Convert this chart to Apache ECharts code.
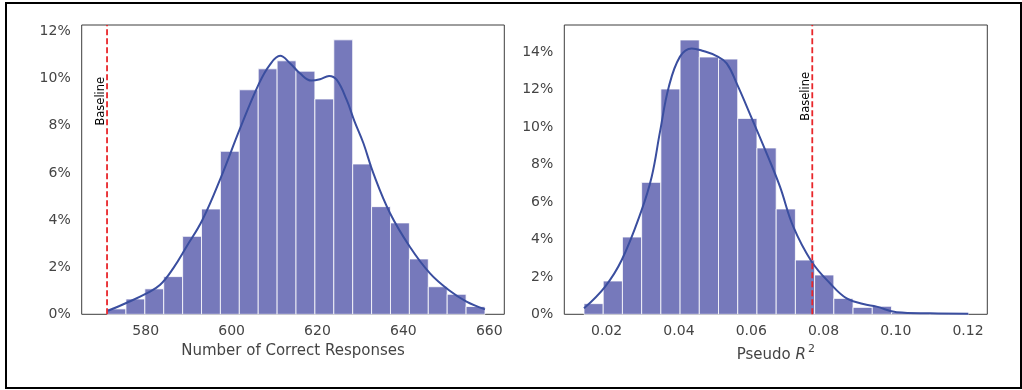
<!DOCTYPE html>
<html>
<head>
<meta charset="utf-8">
<script src="https://cdn.jsdelivr.net/npm/echarts@6/dist/echarts.min.js"></script>
<style>html,body{margin:0;padding:0;background:#fff}#c{width:1022px;height:390px}</style>
</head>
<body>
<div id="c"></div>
<script>
// ---- Left panel: Number of Correct Responses ----
const leftBinStart = 571.0;
const leftBinWidth = 4.4;
const leftPercents = [0.23, 0.65, 1.08, 1.6, 3.31, 4.47, 6.92, 9.53, 10.42, 10.76, 10.32, 9.14, 11.65, 6.38, 4.57, 3.88, 2.35, 1.17, 0.85, 0.33];
const leftKdeX = [571.2, 575.6, 580.2, 583.3, 586.4, 589.5, 593.2, 597.5, 602.0, 606.4, 608.9, 611.3, 613.6, 615.9, 618.6, 620.6, 622.7, 624.5, 626.8, 628.6, 630.7, 633.0, 636.9, 641.5, 646.2, 650.8, 654.7, 659.0];
const leftKdeY = [0.15, 0.49, 0.89, 1.24, 1.95, 2.87, 4.0, 5.8, 7.9, 9.8, 10.59, 10.97, 10.66, 10.23, 9.92, 9.98, 10.12, 9.95, 9.10, 8.2, 7.26, 5.99, 4.29, 2.87, 1.74, 1.0, 0.54, 0.21];
const leftBaseline = 571.0;
const leftXTicks = [580, 600, 620, 640, 660];
const leftYTicks = [0, 2, 4, 6, 8, 10, 12];

// ---- Right panel: Pseudo R^2 ----
const rightBinStart = 0.01372;
const rightBinWidth = 0.005319;
const rightPercents = [0.57, 1.78, 4.13, 7.05, 12.04, 14.66, 13.75, 13.64, 10.47, 8.89, 5.63, 2.90, 2.10, 0.85, 0.37, 0.43, 0.10, 0.07, 0.05, 0.07];
const rightKdeX = [0.01372, 0.01953, 0.02416, 0.02955, 0.03246, 0.03475, 0.03720, 0.04029, 0.04353, 0.04674, 0.05044, 0.05321, 0.05598, 0.0601, 0.0647, 0.06796, 0.07164, 0.07674, 0.08180, 0.08642, 0.09102, 0.09473, 0.10026, 0.10947, 0.1201];
const rightKdeY = [0.32, 1.47, 2.90, 5.5, 7.35, 9.75, 12.16, 13.77, 14.21, 14.07, 13.80, 13.41, 12.34, 10.5, 8.4, 6.82, 4.68, 2.81, 1.66, 0.85, 0.55, 0.41, 0.11, 0.05, 0.03];
const rightBaseline = 0.0769;
const rightXTicks = [0.02, 0.04, 0.06, 0.08, 0.10, 0.12];
const rightYTicks = [0, 2, 4, 6, 8, 10, 12, 14];

const FONT = 'DejaVu Sans';
const TXT = '#444';
const BAR = '#7679bb';
const KDE = '#3a4e9f';
const RED = '#e8262a';
const LEFT_YMAX = 12.28, RIGHT_YMAX = 15.46;

function histData(start, width, vals) {
  return vals.map((v, i) => [start + i * width, start + (i + 1) * width, v]);
}
function histSeries(idx, data) {
  return {
    type: 'custom', xAxisIndex: idx, yAxisIndex: idx, data: data,
    encode: { x: [0, 1], y: 2 }, z: 2, silent: true,
    renderItem: function (params, api) {
      const p0 = api.coord([api.value(0), api.value(2)]);
      const p1 = api.coord([api.value(1), 0]);
      return { type: 'rect',
        shape: { x: p0[0], y: p0[1], width: p1[0] - p0[0], height: p1[1] - p0[1] },
        style: { fill: BAR, stroke: 'rgba(255,255,255,0.8)', lineWidth: 1 } };
    }
  };
}
function kdeSeries(idx, xs, ys) {
  return {
    type: 'line', xAxisIndex: idx, yAxisIndex: idx, z: 3,
    data: xs.map((x, i) => [x, ys[i]]), smooth: 0.4, showSymbol: false, silent: true,
    lineStyle: { color: KDE, width: 2 }
  };
}
function baselineSeries(idx, b, ymax) {
  return {
    type: 'line', xAxisIndex: idx, yAxisIndex: idx, z: 4,
    data: [[b, 0], [b, ymax]], showSymbol: false, silent: true,
    lineStyle: { color: RED, width: 1.8, type: [6, 3] }
  };
}
function xAxis(idx, min, max, ticks, name, fmt) {
  return { type: 'value', gridIndex: idx, min: min, max: max,
    axisLine: { show: false }, axisTick: { show: false }, splitLine: { show: false },
    axisLabel: { customValues: ticks, formatter: fmt, color: TXT, fontFamily: FONT, fontSize: 14, margin: 10 },
    name: name, nameLocation: 'middle', nameGap: 27,
    nameTextStyle: { color: TXT, fontFamily: FONT, fontSize: 15 } };
}
function yAxis(idx, max, ticks) {
  return { type: 'value', gridIndex: idx, min: 0, max: max,
    axisLine: { show: false }, axisTick: { show: false }, splitLine: { show: false },
    axisLabel: { customValues: ticks, formatter: v => Math.round(v) + '%', color: TXT, fontFamily: FONT, fontSize: 14, margin: 11 } };
}

const chart = echarts.init(document.getElementById('c'), null, { renderer: 'canvas' });
const rightName = '{n|Pseudo }{i|R}{s|2}';
const xr = xAxis(1, 0.00827, 0.12534, rightXTicks, rightName, v => v.toFixed(2));
xr.nameTextStyle.rich = {
  n: { fontFamily: FONT, fontSize: 15, color: TXT },
  i: { fontFamily: FONT, fontSize: 15, color: TXT, fontStyle: 'italic' },
  s: { fontFamily: FONT, fontSize: 11, color: TXT, padding: [0, 0, 12, 2] }
};
chart.setOption({
  animation: false,
  backgroundColor: '#fff',
  grid: [
    { left: 81.7, right: 517.7, top: 25, bottom: 75.7, show: true, borderColor: '#3d3d3d', borderWidth: 1, backgroundColor: 'transparent' },
    { left: 564.3, right: 34.7, top: 25, bottom: 75.7, show: true, borderColor: '#3d3d3d', borderWidth: 1, backgroundColor: 'transparent' }
  ],
  xAxis: [
    xAxis(0, 565.1, 663.5, leftXTicks, 'Number of Correct Responses', v => String(Math.round(v))),
    xr
  ],
  yAxis: [yAxis(0, LEFT_YMAX, leftYTicks), yAxis(1, RIGHT_YMAX, rightYTicks)],
  series: [
    histSeries(0, histData(leftBinStart, leftBinWidth, leftPercents)),
    kdeSeries(0, leftKdeX, leftKdeY),
    baselineSeries(0, leftBaseline, LEFT_YMAX),
    histSeries(1, histData(rightBinStart, rightBinWidth, rightPercents)),
    kdeSeries(1, rightKdeX, rightKdeY),
    baselineSeries(1, rightBaseline, RIGHT_YMAX)
  ]
});

function baselineText(idx, xv, yv) {
  const p = chart.convertToPixel({ xAxisIndex: idx, yAxisIndex: idx }, [xv, yv]);
  return { type: 'text', x: p[0] - 0.5, y: p[1], rotation: Math.PI / 2, z: 10,
    style: { text: 'Baseline', fill: '#000', font: '11.5px "DejaVu Sans"', align: 'right', verticalAlign: 'bottom' } };
}
chart.setOption({
  graphic: [
    { type: 'rect', shape: { x: 6, y: 3, width: 1015, height: 385 }, style: { fill: 'none', stroke: '#000', lineWidth: 2 }, z: 20 },
    baselineText(0, leftBaseline, 10.08),
    baselineText(1, rightBaseline, 12.95)
  ]
});
</script>
</body>
</html>
